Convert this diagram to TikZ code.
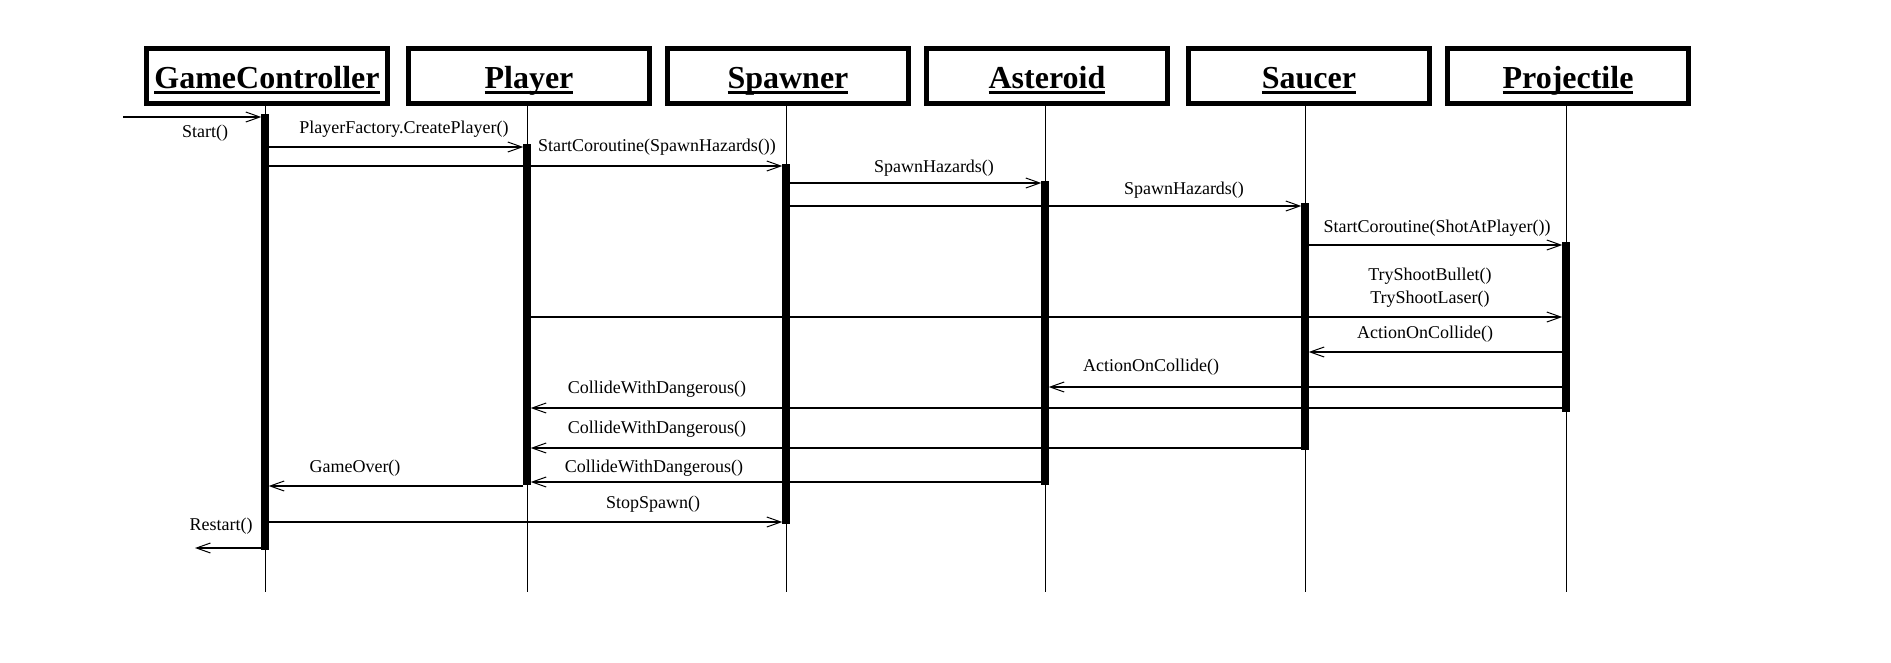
\documentclass[tikz,border=0pt]{standalone}
\usepackage{fontspec}
\setmainfont{Liberation Serif}
\usetikzlibrary{arrows.meta}
\newcommand{\myul}[1]{\setbox0\hbox{#1}\rlap{\rule[-6pt]{\wd0}{3pt}}\box0}
\begin{document}
\begin{tikzpicture}[x=1pt,y=-1pt,
  obj/.style={draw, line width=5pt, minimum width=241pt, minimum height=55pt, inner sep=0pt,
    font=\bfseries\fontsize{32}{36}\selectfont, text height=26pt, text depth=2pt},
  bar/.style={fill=black, draw=none, minimum width=7pt, inner sep=0pt},
  life/.style={line width=1pt},
  msg/.style={line width=1.2pt, -{Straight Barb[length=14pt,width=10pt,line width=1pt]}},
  lbl/.style={font=\fontsize{18}{23}\selectfont, inner sep=0pt}]
\useasboundingbox[fill=white] (0,0) rectangle (1891,662);
% object boxes
\node[obj] (gc) at (267,76) {\myul{GameController}};
\node[obj] (pl) at (529,76) {\myul{Player}};
\node[obj] (sp) at (788,76) {\myul{Spawner}};
\node[obj] (as) at (1047,76) {\myul{Asteroid}};
\node[obj] (sa) at (1309,76) {\myul{Saucer}};
\node[obj] (pr) at (1568,76) {\myul{Projectile}};
% activation bars
\node[bar, minimum height=436pt] (gcb) at (265,332) {};
\node[bar, minimum height=341pt] (plb) at (527,314.5) {};
\node[bar, minimum height=360pt] (spb) at (786,344) {};
\node[bar, minimum height=304pt] (asb) at (1045,333) {};
\node[bar, minimum height=247pt] (sab) at (1305,326.5) {};
\node[bar, minimum height=170pt] (prb) at (1566,327) {};
% lifelines
\foreach \o/\b in {gc/gcb,pl/plb,sp/spb,as/asb,sa/sab,pr/prb}
  \draw[life] (\b |- \o.south) -- (\b |- 0,592);
% messages
\coordinate (startin) at (123,117);
\coordinate (restartout) at (195,548);
\draw[msg] (startin) -- (gcb.west |- startin);
\draw[msg] (gcb.east |- 0,147) -- (plb.west |- 0,147);
\draw[msg] (gcb.east |- 0,166) -- (spb.west |- 0,166);
\draw[msg] (spb.east |- 0,183) -- (asb.west |- 0,183);
\draw[msg] (spb.east |- 0,206) -- (sab.west |- 0,206);
\draw[msg] (sab.east |- 0,245) -- (prb.west |- 0,245);
\draw[msg] (plb.east |- 0,317) -- (prb.west |- 0,317);
\draw[msg] (prb.west |- 0,352) -- (sab.east |- 0,352);
\draw[msg] (prb.west |- 0,387) -- (asb.east |- 0,387);
\draw[msg] (prb.west |- 0,408) -- (plb.east |- 0,408);
\draw[msg] (sab.west |- 0,448) -- (plb.east |- 0,448);
\draw[msg] (asb.west |- 0,482) -- (plb.east |- 0,482);
\draw[msg] (plb.west |- 0,486) -- (gcb.east |- 0,486);
\draw[msg] (gcb.east |- 0,522) -- (spb.west |- 0,522);
\draw[msg] (gcb.west |- restartout) -- (restartout);
% redraw bars on top of crossing lines
\foreach \b in {gcb,plb,spb,asb,sab,prb}
  \fill (\b.north west) rectangle (\b.south east);
% labels
\node[lbl] (l1) at (205,133) {Start()};
\node[lbl] (l2) at (404,129) {PlayerFactory.CreatePlayer()};
\node[lbl] (l3) at (657,147) {StartCoroutine(SpawnHazards())};
\node[lbl] (l4) at (934,168) {SpawnHazards()};
\node[lbl] (l5) at (1184,190) {SpawnHazards()};
\node[lbl] (l6) at (1437,228) {StartCoroutine(ShotAtPlayer())};
\node[lbl, align=center] (l7) at (1430,288) {TryShootBullet()\\TryShootLaser()};
\node[lbl] (l8) at (1425,334) {ActionOnCollide()};
\node[lbl] (l9) at (1151,367) {ActionOnCollide()};
\node[lbl] (l10) at (657,389) {CollideWithDangerous()};
\node[lbl] (l11) at (657,429) {CollideWithDangerous()};
\node[lbl] (l12) at (654,468) {CollideWithDangerous()};
\node[lbl] (l13) at (355,468) {GameOver()};
\node[lbl] (l14) at (653,504) {StopSpawn()};
\node[lbl] (l15) at (221,526) {Restart()};
\end{tikzpicture}
\end{document}
